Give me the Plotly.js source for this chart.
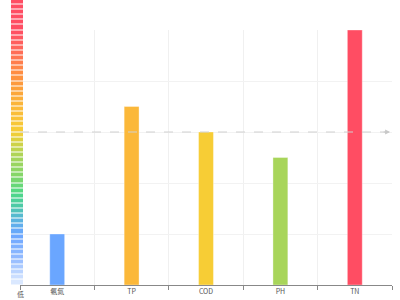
<!DOCTYPE html>
<html>
<head>
<meta charset="utf-8">
<script src="https://cdn.plot.ly/plotly-3.0.1.min.js"></script>
<style>html,body{margin:0;padding:0;background:#fff;}#chart{width:400px;height:300px;}</style>
</head>
<body>
<div id="chart"></div>
<script>
// Data
var categories = ["氨氮", "TP", "COD", "PH", "TN"];
var values = [1, 3.5, 3, 2.5, 5];
var legendLabel = "低";

// Visual map settings (value -> colour)
var mapMax = 5.59;
var colorStops = [
  [0, "#e2edff"], [0.5, "#94bbff"], [1.0, "#6aa6ff"], [1.3, "#58b6d8"],
  [1.55, "#4dcaa5"], [1.8, "#4ed886"], [2.1, "#80d66a"], [2.5, "#a8d55a"],
  [2.8, "#d4d244"], [3.0, "#f7cd35"], [3.5, "#fbb83a"], [3.85, "#fca03a"],
  [4.2, "#ff8a45"], [4.6, "#ff6a5a"], [5.0, "#ff4d63"], [5.59, "#ff4d63"]
];
var colorscale = colorStops.map(function(s){ return [s[0] / mapMax, s[1]]; });

// visual map legend pieces
var pieceY = [], pieceZ = [];
for (var v = 0.05; v < mapMax; v += 0.1) { pieceY.push(v); pieceZ.push([v]); }

var avg = values.reduce(function(a,b){return a+b;},0) / values.length;

var traces = [
  {
    type: "bar",
    x: categories,
    y: values,
    marker: {
      color: values, colorscale: colorscale, cmin: 0, cmax: mapMax,
      line: {color: "rgba(255,255,255,0.35)", width: 1}
    },
    hoverinfo: "x+y",
    xaxis: "x", yaxis: "y"
  },
  {
    type: "heatmap",
    x: [0],
    y: pieceY,
    z: pieceZ,
    colorscale: colorscale, zmin: 0, zmax: mapMax,
    showscale: false, ygap: 1,
    xaxis: "x2", yaxis: "y2", hoverinfo: "skip"
  }
];

var layout = {
  width: 400, height: 300,
  margin: {l: 0, r: 0, t: 0, b: 15},
  paper_bgcolor: "#fff", plot_bgcolor: "#fff",
  showlegend: false,
  font: {family: "'Noto Sans CJK SC', 'Noto Sans', sans-serif", size: 7, color: "#555"},
  bargap: 0.8,
  xaxis: {
    domain: [0.05, 0.98], anchor: "y",
    type: "category",
    tickson: "boundaries", ticks: "outside", ticklen: 4, tickcolor: "#888",
    showgrid: true, gridcolor: "#f0f0f0", gridwidth: 1,
    showline: true, linecolor: "#888", linewidth: 1,
    tickfont: {size: 7, color: "#555"},
    fixedrange: true
  },
  yaxis: {
    domain: [0, 255/285], anchor: "x",
    range: [0, 5], dtick: 1,
    showgrid: true, gridcolor: "#f2f2f2", gridwidth: 1,
    showticklabels: false, zeroline: false, showline: false,
    fixedrange: true
  },
  xaxis2: {
    domain: [11/400, 23/400], anchor: "y2",
    showgrid: false, showticklabels: false, zeroline: false, showline: false, ticks: "",
    range: [-0.5, 0.5]
  },
  yaxis2: {
    domain: [0, 1], anchor: "x2",
    range: [0, mapMax],
    showgrid: false, showticklabels: false, zeroline: false, showline: false, ticks: ""
  },
  shapes: [
    {type: "line", xref: "x domain", yref: "y", x0: 0, x1: 0.985, y0: avg, y1: avg,
     line: {color: "#d0d0d0", width: 1, dash: "dash"}, layer: "above"}
  ],
  annotations: [
    {xref: "x domain", yref: "y", x: 0.995, y: avg, ax: -8, ay: 0, axref: "pixel", ayref: "pixel",
     text: "", showarrow: true, arrowhead: 2, arrowsize: 1, arrowwidth: 1, arrowcolor: "#c8c8c8"},
    {xref: "paper", yref: "paper", x: 0.05, y: 0, xanchor: "center", yanchor: "top", yshift: -2,
     text: legendLabel, showarrow: false, font: {size: 7, color: "#555"}}
  ]
};

Plotly.newPlot("chart", traces, layout, {displayModeBar: false, staticPlot: true});
</script>
</body>
</html>
